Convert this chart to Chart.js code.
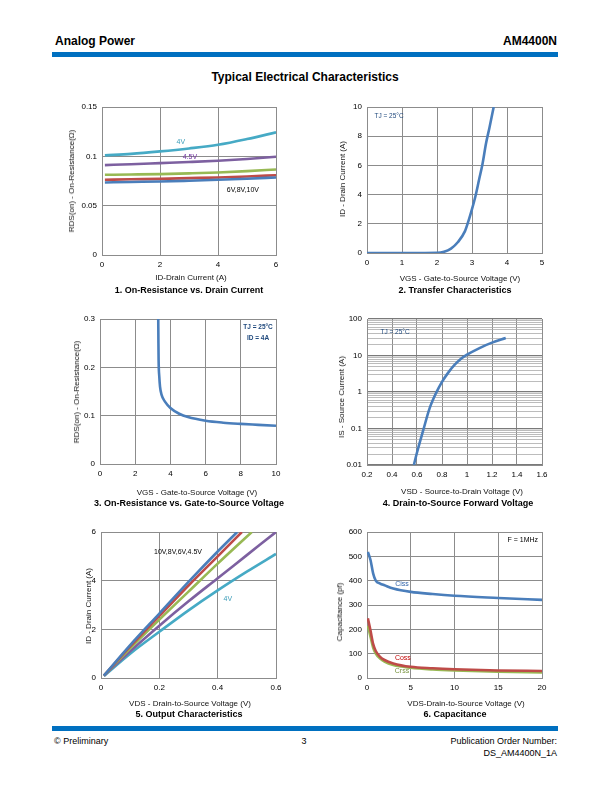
<!DOCTYPE html>
<html>
<head>
<meta charset="utf-8">
<script src="https://cdn.jsdelivr.net/npm/chart.js@4.4.1/dist/chart.umd.min.js"></script>
<style>
body{margin:0;background:#fff;font-family:"Liberation Sans",Arial,sans-serif;}
#page{position:relative;width:612px;height:792px;overflow:hidden;}
.t{position:absolute;white-space:nowrap;color:#000;line-height:1;}
.bar{position:absolute;background:#0070c0;}
canvas{position:absolute;}
</style>
</head>
<body>
<div id="page"></div>
<script>
const FONT = "'Liberation Sans', Arial, sans-serif"

// 1. On-Resistance vs. Drain Current
const rdsCurrent = [0.1, 1, 2, 3, 4, 5, 6]
const rds10V = [0.0735, 0.074, 0.0745, 0.0753, 0.0762, 0.0773, 0.0786]
const rds8V = [0.0762, 0.0767, 0.0772, 0.0779, 0.0786, 0.0796, 0.0809]
const rds6V = [0.0813, 0.0816, 0.082, 0.0827, 0.0836, 0.085, 0.0867]
const rds45V = [0.0911, 0.092, 0.0931, 0.0942, 0.0955, 0.0973, 0.0996]
const rds4V = [0.101, 0.1025, 0.105, 0.108, 0.1117, 0.1175, 0.1243]

// 2. Transfer Characteristics
const vgsTransfer = [0, 0.5, 1, 1.5, 2, 2.2, 2.4, 2.6, 2.8, 2.9, 3.0, 3.1, 3.2, 3.3, 3.4, 3.5, 3.62]
const idTransfer = [0, 0, 0, 0, 0.01, 0.08, 0.3, 0.75, 1.5, 2.2, 3.0, 3.9, 5.0, 6.1, 7.5, 8.6, 10]

// 3. On-Resistance vs. Gate-to-Source Voltage
const vgsRds = [3.31, 3.32, 3.33, 3.37, 3.41, 3.5, 3.69, 4.0, 4.5, 5, 6, 7, 8, 9, 10]
const rdsVgs = [0.3, 0.25, 0.215, 0.18, 0.16, 0.143, 0.129, 0.116, 0.104, 0.097, 0.0895, 0.0855, 0.083, 0.081, 0.079]

// 4. Drain-to-Source Forward Voltage
const vsd = [0.575, 0.6, 0.65, 0.7, 0.75, 0.8, 0.85, 0.9, 0.95, 1.0, 1.1, 1.2, 1.31]
const isd = [0.01, 0.022, 0.09, 0.35, 0.9, 1.9, 3.4, 5.5, 8.0, 10.5, 16, 22.5, 30]

// 5. Output Characteristics
const vdsOut10V = [0.01, 0.1, 0.2, 0.3, 0.4, 0.467]
const idOut10V = [0.1, 1.35, 2.65, 3.95, 5.2, 6]
const vdsOut8V = [0.01, 0.1, 0.2, 0.3, 0.4, 0.483]
const idOut8V = [0.1, 1.3, 2.55, 3.8, 5.0, 6]
const vdsOut6V = [0.01, 0.1, 0.2, 0.3, 0.4, 0.517]
const idOut6V = [0.1, 1.22, 2.4, 3.55, 4.7, 6]
const vdsOut45V = [0.01, 0.1, 0.2, 0.3, 0.4, 0.5, 0.6]
const idOut45V = [0.1, 1.1, 2.15, 3.15, 4.1, 5.05, 6]
const vdsOut4V = [0.01, 0.1, 0.2, 0.3, 0.4, 0.5, 0.6]
const idOut4V = [0.08, 1.0, 1.9, 2.78, 3.6, 4.37, 5.1]

// 6. Capacitance
const vdsCap = [0.1, 0.4, 0.7, 1.0, 1.5, 2, 3, 5, 7.5, 10, 15, 20]
const ciss = [518, 485, 430, 400, 388, 381, 368, 354, 345, 338, 329, 321]
const coss = [245, 195, 140, 111, 87, 74, 60, 46, 40, 36, 31, 29]
const crss = [215, 170, 125, 100, 80, 67, 53, 42, 35, 31, 26, 23]

const BLUE = "#4a7ebb", RED = "#be4b48", GREEN = "#98b954", PURPLE = "#7d60a0", CYAN = "#46aac5"
const GRID = "#8c8c8c"

const page = document.getElementById("page")

function addText(str, x, y, css, anchor, rotate) {
    const d = document.createElement("div")
    d.className = "t"
    d.textContent = str
    d.style.left = x + "px"
    d.style.top = y + "px"
    Object.assign(d.style, css || {})
    let tx = anchor === "left" ? "0" : anchor === "right" ? "-100%" : "-50%"
    d.style.transform = "translate(" + tx + ",-50%)" + (rotate ? " rotate(-90deg)" : "")
    page.appendChild(d)
}
function addBar(x, y, w, h) {
    const d = document.createElement("div")
    d.className = "bar"
    d.style.left = x + "px"; d.style.top = y + "px"
    d.style.width = w + "px"; d.style.height = h + "px"
    page.appendChild(d)
}

function pts(xs, ys) {
    return xs.map((x, i) => ({x: x, y: ys[i]}))
}
function line(xs, ys, color) {
    return {data: pts(xs, ys), showLine: true, borderColor: color, backgroundColor: color,
        borderWidth: 2.6, pointRadius: 0, cubicInterpolationMode: "monotone", fill: false}
}
function fmt(v) {
    return String(+Number(v).toFixed(4))
}

function notesPlugin(notes) {
    return {
        id: "notes",
        afterDatasetsDraw(chart) {
            const ctx = chart.ctx
            notes.forEach(n => {
                const x = chart.scales.x.getPixelForValue(n.x)
                const y = chart.scales.y.getPixelForValue(n.y)
                ctx.save()
                ctx.font = (n.bold ? "bold " : "") + (n.size || 7) + "px " + FONT
                ctx.fillStyle = n.color || "#000"
                ctx.textAlign = "center"
                ctx.textBaseline = "middle"
                ctx.fillText(n.text, x, y)
                ctx.restore()
            })
        }
    }
}

function linAxis(min, max, step, isX) {
    return {
        type: "linear", min: min, max: max,
        ticks: {stepSize: step, padding: 5, color: "#000", autoSkip: false, maxRotation: 0,
            font: {size: 8, family: FONT}, callback: v => fmt(v)},
        grid: {color: GRID, lineWidth: 1, drawTicks: false},
        border: {color: GRID, width: 1},
        afterFit: s => { if (isX) s.height = 22; else s.width = 40 }
    }
}

function makeChart(box, datasets, xAxis, yAxis, notes) {
    const L = 40, T = 10, R = 14, B = 22
    const w = box[2] - box[0] + L + R
    const h = box[3] - box[1] + T + B
    const c = document.createElement("canvas")
    c.width = w; c.height = h
    c.style.left = (box[0] - L) + "px"
    c.style.top = (box[1] - T) + "px"
    c.style.width = w + "px"; c.style.height = h + "px"
    page.appendChild(c)
    return new Chart(c, {
        type: "scatter",
        data: {datasets: datasets},
        options: {
            responsive: false, animation: false, devicePixelRatio: 1,
            layout: {padding: {top: T, right: R, left: 0, bottom: 0}},
            plugins: {legend: {display: false}, tooltip: {enabled: false}},
            scales: {x: xAxis, y: yAxis}
        },
        plugins: [notesPlugin(notes || [])]
    })
}

// page header / footer
const HB = {fontWeight: "bold", fontSize: "12px"}
addText("Analog Power", 55, 41, HB, "left")
addText("AM4400N", 557, 41, HB, "right")
addBar(52, 52, 506, 5)
addText("Typical Electrical Characteristics", 305, 77, HB)
addBar(52, 726, 506, 5)
const FT = {fontSize: "9px"}
addText("\u00a9 Preliminary", 54, 741, FT, "left")
addText("3", 304, 741, FT)
addText("Publication Order Number:", 557, 741, FT, "right")
addText("DS_AM4400N_1A", 557, 753, FT, "right")

const AX = {fontSize: "8px", color: "#111"}
const CAP = {fontSize: "9px", fontWeight: "bold"}

// chart 1
makeChart([102, 107, 276, 255], [
    line(rdsCurrent, rds10V, BLUE),
    line(rdsCurrent, rds8V, RED),
    line(rdsCurrent, rds6V, GREEN),
    line(rdsCurrent, rds45V, PURPLE),
    line(rdsCurrent, rds4V, CYAN)
], linAxis(0, 6, 2, true), linAxis(0, 0.15, 0.05, false), [
    {text: "4V", x: 2.72, y: 0.1145, color: "#3a9cb8"},
    {text: "4.5V", x: 3.03, y: 0.0993, color: "#7030a0"},
    {text: "6V,8V,10V", x: 4.86, y: 0.0659, color: "#000"}
])
addText("ID-Drain Current (A)", 191, 278, AX)
addText("RDS(on) - On-Resistance(\u03a9)", 72, 181, AX, "center", true)
addText("1. On-Resistance vs. Drain Current", 189, 290, CAP)

// chart 2
makeChart([367, 107, 542, 253], [line(vgsTransfer, idTransfer, BLUE)],
    linAxis(0, 5, 1, true), linAxis(0, 10, 2, false), [
    {text: "TJ = 25\u00b0C", x: 0.63, y: 9.38, color: "#1f497d", size: 6.5}
])
addText("VGS - Gate-to-Source Voltage (V)", 460, 279, AX)
addText("ID - Drain Current (A)", 343, 179, AX, "center", true)
addText("2. Transfer Characteristics", 455, 290, CAP)

// chart 3
makeChart([100, 319, 276, 464], [line(vgsRds, rdsVgs, BLUE)],
    linAxis(0, 10, 2, true), linAxis(0, 0.3, 0.1, false), [
    {text: "TJ = 25\u00b0C", x: 8.98, y: 0.2834, color: "#1f497d", size: 6.5, bold: true},
    {text: "ID = 4A", x: 8.98, y: 0.2607, color: "#1f497d", size: 6.5, bold: true}
])
addText("VGS - Gate-to-Source Voltage (V)", 197, 493, AX)
addText("RDS(on) - On-Resistance(\u03a9)", 77, 392, AX, "center", true)
addText("3. On-Resistance vs. Gate-to-Source Voltage", 189, 503, CAP)

// chart 4
const isMajor = v => Math.abs(Math.log10(v) - Math.round(Math.log10(v))) < 1e-6
const logY = {
    type: "logarithmic", min: 0.01, max: 100,
    ticks: {padding: 5, color: "#000", autoSkip: false, font: {size: 8, family: FONT},
        callback: v => isMajor(v) ? fmt(v) : ""},
    grid: {drawTicks: false, color: c => isMajor(c.tick.value) ? "#7a7a7a" : "#ababab",
        lineWidth: c => isMajor(c.tick.value) ? 1.3 : 0.8},
    border: {color: GRID, width: 1},
    afterBuildTicks: s => {
        s.ticks = s.ticks.filter(t => {
            const m = t.value / Math.pow(10, Math.floor(Math.log10(t.value) + 1e-9))
            return Math.abs(m - Math.round(m)) < 1e-6
        })
    },
    afterFit: s => { s.width = 40 }
}
makeChart([367, 319, 542, 465], [line(vsd, isd, BLUE)],
    linAxis(0.2, 1.6, 0.2, true), logY, [
    {text: "TJ = 25\u00b0C", x: 0.424, y: 44, color: "#1f497d", size: 6.5}
])
addText("VSD - Source-to-Drain Voltage (V)", 462, 492, AX)
addText("IS - Source Current (A)", 342, 397, AX, "center", true)
addText("4. Drain-to-Source Forward Voltage", 458, 503, CAP)

// chart 5
makeChart([101, 532, 276, 678], [
    line(vdsOut10V, idOut10V, BLUE),
    line(vdsOut8V, idOut8V, RED),
    line(vdsOut6V, idOut6V, GREEN),
    line(vdsOut45V, idOut45V, PURPLE),
    line(vdsOut4V, idOut4V, CYAN)
], linAxis(0, 0.6, 0.2, true), linAxis(0, 6, 2, false), [
    {text: "10V,8V,6V,4.5V", x: 0.264, y: 5.18, color: "#000"},
    {text: "4V", x: 0.435, y: 3.25, color: "#3a9cb8"}
])
addText("VDS - Drain-to-Source Voltage (V)", 190, 704, AX)
addText("ID - Drain Current (A)", 89, 606, AX, "center", true)
addText("5. Output Characteristics", 189, 714, CAP)

// chart 6
makeChart([367, 532, 542, 678], [
    line(vdsCap, ciss, BLUE),
    line(vdsCap, coss, RED),
    line(vdsCap, crss, GREEN)
], linAxis(0, 20, 5, true), linAxis(0, 600, 100, false), [
    {text: "F = 1MHz", x: 17.8, y: 567, color: "#000"},
    {text: "Ciss", x: 4.0, y: 386, color: "#2f62a8"},
    {text: "Coss", x: 4.1, y: 82, color: "#c00000"},
    {text: "Crss", x: 4.0, y: 29, color: "#76923c"}
])
addText("VDS-Drain-to-Source Voltage (V)", 466, 704, AX)
addText("Capacitance (pf)", 340, 612, AX, "center", true)
addText("6. Capacitance", 455, 714, CAP)
</script>
</body>
</html>
